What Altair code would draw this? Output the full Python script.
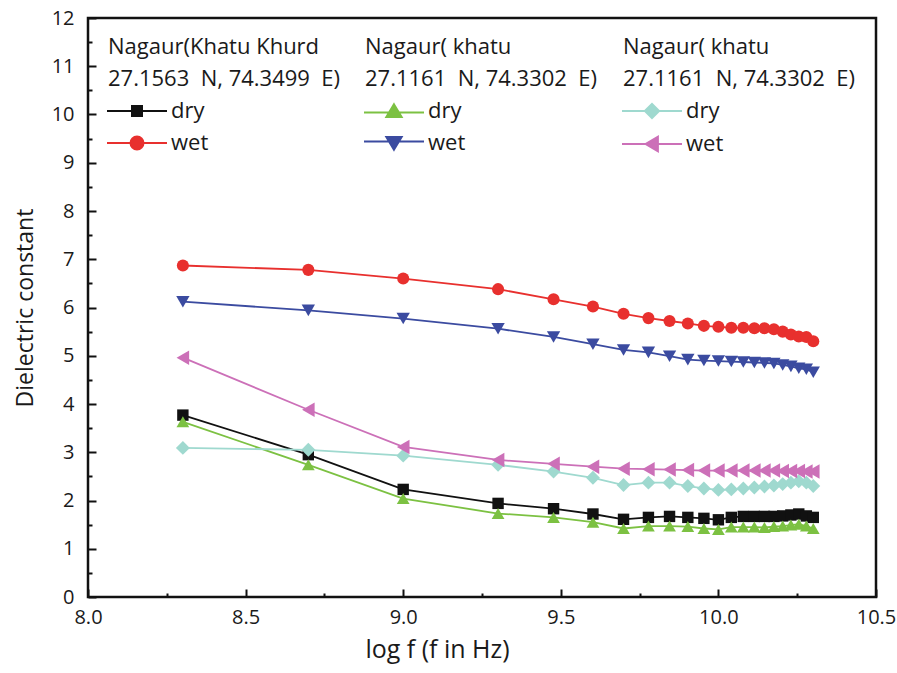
import altair as alt
import pandas as pd

# ---- data ----
log_f = [8.301, 8.699, 9.0, 9.301, 9.477, 9.602, 9.699, 9.778, 9.845, 9.903, 9.954,
         10.0, 10.041, 10.079, 10.114, 10.146, 10.176, 10.204, 10.230, 10.255, 10.279, 10.301]

khurd_dry = [3.77, 2.95, 2.23, 1.94, 1.83, 1.72, 1.61, 1.65, 1.67, 1.65, 1.63,
             1.60, 1.65, 1.67, 1.67, 1.67, 1.67, 1.68, 1.70, 1.72, 1.68, 1.65]
khurd_wet = [6.87, 6.78, 6.60, 6.38, 6.17, 6.02, 5.87, 5.78, 5.72, 5.67, 5.62,
             5.60, 5.58, 5.58, 5.57, 5.57, 5.55, 5.50, 5.44, 5.40, 5.39, 5.30]
khatu_a_dry = [3.63, 2.74, 2.04, 1.73, 1.65, 1.55, 1.42, 1.47, 1.47, 1.46, 1.42,
               1.40, 1.45, 1.45, 1.45, 1.44, 1.46, 1.47, 1.49, 1.51, 1.47, 1.42]
khatu_a_wet = [6.12, 5.94, 5.77, 5.56, 5.39, 5.24, 5.12, 5.07, 4.99, 4.92, 4.90,
               4.89, 4.88, 4.87, 4.86, 4.85, 4.84, 4.81, 4.78, 4.74, 4.72, 4.66]
khatu_b_dry = [3.09, 3.05, 2.93, 2.74, 2.60, 2.47, 2.32, 2.37, 2.37, 2.30, 2.25,
               2.22, 2.23, 2.25, 2.27, 2.29, 2.31, 2.34, 2.37, 2.40, 2.37, 2.30]
khatu_b_wet = [4.96, 3.88, 3.11, 2.84, 2.76, 2.70, 2.66, 2.65, 2.64, 2.63, 2.62,
               2.62, 2.62, 2.62, 2.62, 2.62, 2.62, 2.61, 2.61, 2.61, 2.60, 2.60]

conditions = ["dry", "wet"]
site_headers = [
    ["Nagaur(Khatu Khurd", "\u00a027.1563\u00a0\u00a0N, 74.3499\u00a0\u00a0E)"],
    ["Nagaur( khatu", "\u00a027.1161\u00a0\u00a0N, 74.3302\u00a0\u00a0E)"],
    ["Nagaur( khatu", "\u00a027.1161\u00a0\u00a0N, 74.3302\u00a0\u00a0E)"],
]
series_values = [
    [khurd_dry, khurd_wet],
    [khatu_a_dry, khatu_a_wet],
    [khatu_b_dry, khatu_b_wet],
]
x_ticks = [8.0 + 0.25 * i for i in range(11)]
y_ticks = [0.5 * i for i in range(25)]

# ---- styles ----
FONT = "Open Sans"
TEXT = "#1a1a1a"
site_colors = [["#111111", "#e8302e"], ["#7cc142", "#3b4ba0"], ["#9fd9cf", "#cc70b8"]]
site_shapes = [["square", "circle"], ["triangle-up", "triangle-down"], ["diamond", "triangle-left"]]
site_sizes = [[130, 210], [270, 270], [240, 270]]
# legend symbols: line + marker (custom paths, unit = 6 px)
L0, L1, C = -2.0, 8.0, 3.0
legend_paths = [
    [f"M{L0},0H{C-0.85}M{C+0.85},0H{L1}M{C-0.85},-0.85H{C+0.85}V0.85H{C-0.85}Z",
     f"M{L0},0H{C-1.1}M{C+1.1},0H{L1}M{C-1.1},0A1.1,1.1,0,1,1,{C+1.1},0A1.1,1.1,0,1,1,{C-1.1},0Z"],
    [f"M{L0},0.25H{C-0.75}M{C+0.75},0.25H{L1}M{C},-1.15L{C+1.3},1.0H{C-1.3}Z",
     f"M{L0},-0.25H{C-0.75}M{C+0.75},-0.25H{L1}M{C},1.15L{C+1.3},-1.0H{C-1.3}Z"],
    [f"M{L0},0H{C-1.2}M{C+1.2},0H{L1}M{C-1.2},0L{C},-1.2L{C+1.2},0L{C},1.2Z",
     f"M{L0},0H{C-1.1}M{C+1.0},0H{L1}M{C-1.1},0L{C+1.0},-1.25V1.25Z"],
]
legend_x = [20, 277, 535]
legend_y = 19

rows = []
for s in range(3):
    for c in range(2):
        for xv, yv in zip(log_f, series_values[s][c]):
            rows.append({"logf": xv, "value": yv, "site": s,
                         "cond": conditions[c], "series": f"{s}_{conditions[c]}"})
df = pd.DataFrame(rows)

series_domain = [f"{s}_{c}" for s in range(3) for c in conditions]
color_range = [site_colors[s][c] for s in range(3) for c in range(2)]
shape_range = [site_shapes[s][c] for s in range(3) for c in range(2)]
size_range = [site_sizes[s][c] for s in range(3) for c in range(2)]

x_enc = alt.X("logf:Q", scale=alt.Scale(domain=[8.0, 10.5], nice=False, zero=False),
              axis=alt.Axis(title="log f (f in Hz)", values=x_ticks, labelFlush=False,
                            labelExpr="datum.value % 0.5 === 0 ? format(datum.value, '.1f') : ''",
                            tickSize={"expr": "datum.value % 0.5 === 0 ? -8 : -4"},
                            labelPadding=18, titlePadding=10, titleFontSize=25, titleX=349))
y_enc = alt.Y("value:Q", scale=alt.Scale(domain=[0, 12], nice=False, zero=False),
              axis=alt.Axis(title="Dielectric constant", values=y_ticks, labelFlush=False,
                            labelExpr="datum.value % 1 === 0 ? format(datum.value, 'd') : ''",
                            tickSize={"expr": "datum.value % 1 === 0 ? -8 : -4"},
                            labelPadding=22, titlePadding=14, titleFontSize=23))

color_enc = alt.Color("series:N", scale=alt.Scale(domain=series_domain, range=color_range), legend=None)

lines = alt.Chart(df).mark_line(strokeWidth=1.8).encode(
    x=x_enc, y=y_enc, color=color_enc, detail="series:N", order="logf:Q")

points = alt.Chart(df).mark_point(filled=True, opacity=1).encode(
    x=x_enc, y=y_enc, color=color_enc,
    shape=alt.Shape("series:N", scale=alt.Scale(domain=series_domain, range=shape_range), legend=None),
    size=alt.Size("series:N", scale=alt.Scale(domain=series_domain, range=size_range), legend=None))

legend_layers = []
for s in range(3):
    leg = alt.Legend(
        title=site_headers[s], orient="none", legendX=legend_x[s], legendY=legend_y,
        direction="vertical", padding=0,
        titleFont=FONT, titleFontSize=22, titleFontWeight="normal", titleColor=TEXT,
        titleLimit=600, titleLineHeight=32, titlePadding=9, titleAnchor="start",
        labelFont=FONT, labelFontSize=22, labelColor=TEXT, labelOffset=41, labelLimit=200,
        symbolSize=144, symbolStrokeWidth=1.8, symbolOpacity=1, rowPadding=10)
    legend_layers.append(
        alt.Chart(df).transform_filter(f"datum.site == {s} && false").mark_point(
            filled=True, opacity=1, size=144).encode(
            x=x_enc, y=y_enc,
            shape=alt.Shape("cond:N", scale=alt.Scale(domain=conditions, range=legend_paths[s]), legend=leg),
            fill=alt.Fill("cond:N", scale=alt.Scale(domain=conditions, range=site_colors[s]), legend=leg),
            stroke=alt.Stroke("cond:N", scale=alt.Scale(domain=conditions, range=site_colors[s]), legend=leg),
        ))

chart = alt.layer(lines, points, *legend_layers).resolve_scale(
    shape="independent", fill="independent", stroke="independent"
).properties(
    width=788, height=579, autosize="none",
    padding={"left": 88, "top": 18, "right": 21, "bottom": 76},
    background="white",
).configure_view(
    stroke="#111111", strokeWidth=2.5
).configure_axis(
    domain=False, grid=False, tickColor="#111111", tickWidth=2,
    labelFont=FONT, labelFontSize=20, labelColor=TEXT,
    titleFont=FONT, titleFontWeight="normal", titleColor=TEXT,
)

chart.save("out.html", embed_options={"renderer": "svg", "actions": False})
